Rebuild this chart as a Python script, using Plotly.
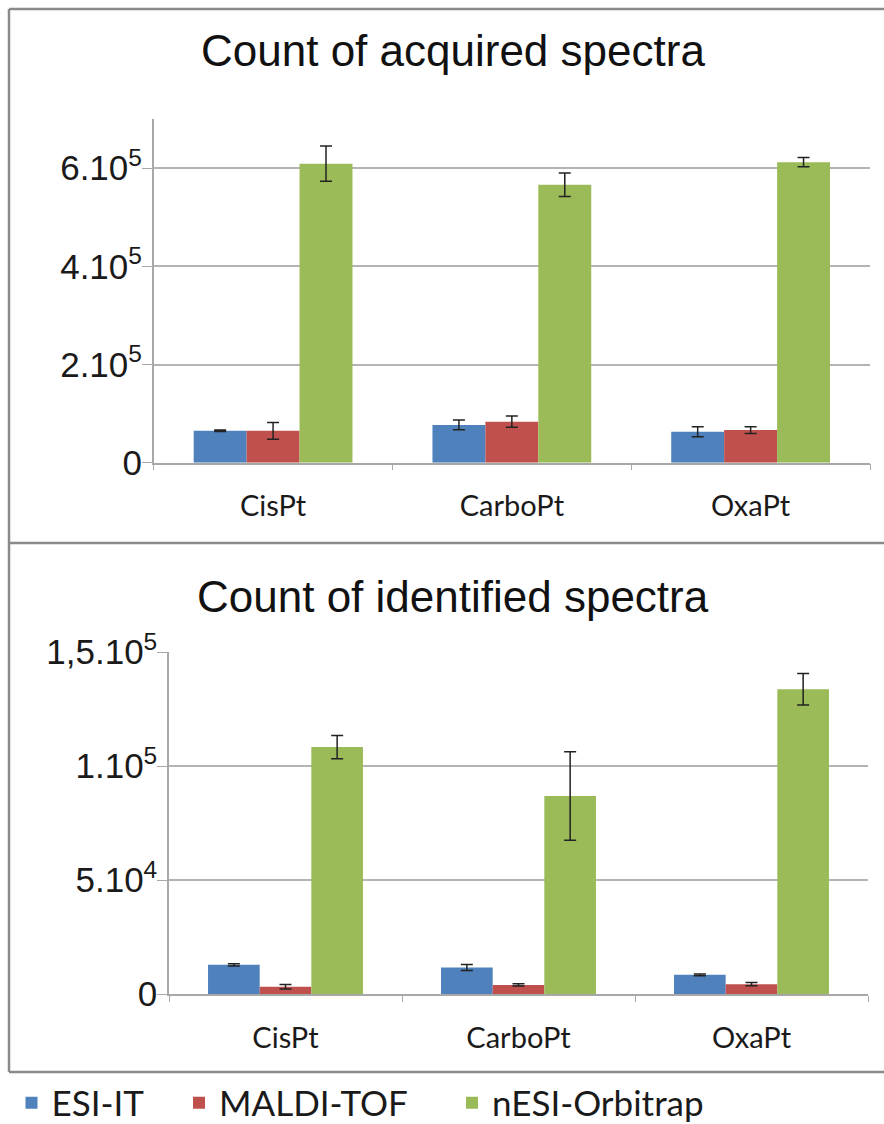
import plotly.graph_objects as go

# Drug categories and instrument series
categories = ["CisPt", "CarboPt", "OxaPt"]
series = ["ESI-IT", "MALDI-TOF", "nESI-Orbitrap"]
colors = ["#4F81BD", "#C0504D", "#9BBB59"]

# Count of acquired spectra (mean, error)
acquired_esi = [65000, 77000, 63000]
acquired_esi_err = [1500, 10000, 10000]
acquired_maldi = [65000, 83500, 66500]
acquired_maldi_err = [17000, 11500, 6800]
acquired_nesi = [609000, 566000, 612000]
acquired_nesi_err = [36000, 24000, 9500]

# Count of identified spectra (mean, error)
identified_esi = [12800, 11600, 8400]
identified_esi_err = [500, 1300, 400]
identified_maldi = [3200, 4000, 4300]
identified_maldi_err = [1000, 500, 700]
identified_nesi = [108300, 86800, 133700]
identified_nesi_err = [5100, 19400, 6900]

# Y tick values / labels
acq_tickvals = [0, 200000, 400000, 600000]
acq_ticktext = ["0", "2.10<sup>5</sup>", "4.10<sup>5</sup>", "6.10<sup>5</sup>"]
idf_tickvals = [0, 50000, 100000, 150000]
idf_ticktext = ["0", "5.10<sup>4</sup>", "1.10<sup>5</sup>", "1,5.10<sup>5</sup>"]

W, H = 884, 1124


def px_x(p):
    return p / W


def px_y(p):
    return 1 - p / H


acq = [(acquired_esi, acquired_esi_err), (acquired_maldi, acquired_maldi_err),
       (acquired_nesi, acquired_nesi_err)]
idf = [(identified_esi, identified_esi_err), (identified_maldi, identified_maldi_err),
       (identified_nesi, identified_nesi_err)]
legend_ids = ["legend", "legend2", "legend3"]

fig = go.Figure()
err_style = dict(type="data", color="#222222", thickness=1.5, width=6)

for i, name in enumerate(series):
    vals, errs = acq[i]
    fig.add_trace(go.Bar(
        x=categories, y=vals, name=name, marker_color=colors[i],
        marker_line_width=0,
        error_y=dict(array=errs, **err_style),
        xaxis="x", yaxis="y", legend=legend_ids[i], showlegend=True,
    ))
for i, name in enumerate(series):
    vals, errs = idf[i]
    fig.add_trace(go.Bar(
        x=categories, y=vals, name=name, marker_color=colors[i],
        marker_line_width=0,
        error_y=dict(array=errs, **err_style),
        xaxis="x2", yaxis="y2", showlegend=False,
    ))

grid_col = "#b4b4b4"
axis_col = "#a8a8a8"
tick_font = dict(family="Liberation Sans, Arial, sans-serif", size=35, color="#1a1a1a")
cat_font = dict(family="Lato, sans-serif", size=29, color="#1a1a1a")

xcommon = dict(
    type="category", showline=True, linecolor=axis_col, linewidth=1.5,
    ticks="outside", tickson="boundaries", ticklen=6, tickcolor=axis_col,
    tickfont=cat_font, showgrid=False, zeroline=False, fixedrange=True,
    ticklabelstandoff=17,
)
ycommon = dict(
    showline=True, linecolor=axis_col, linewidth=1.5,
    showgrid=True, gridcolor=grid_col, gridwidth=1.5,
    ticks="outside", ticklen=10, tickcolor=axis_col,
    tickfont=tick_font, zeroline=False, fixedrange=True,
    ticklabelstandoff=-7,
)

fig.update_layout(
    width=W, height=H, autosize=False,
    margin=dict(l=0, r=0, t=0, b=0, autoexpand=False),
    paper_bgcolor="white", plot_bgcolor="white",
    barmode="group", bargap=0.335, bargroupgap=0,
    xaxis=dict(domain=[px_x(153.7), px_x(870)], anchor="y", **xcommon),
    yaxis=dict(domain=[px_y(462.7), px_y(119)], anchor="x", range=[0, 700000],
               tickvals=acq_tickvals, ticktext=acq_ticktext, **ycommon),
    xaxis2=dict(domain=[px_x(169), px_x(868)], anchor="y2", **xcommon),
    yaxis2=dict(domain=[px_y(994), px_y(652)], anchor="x2", range=[0, 150000],
                tickvals=idf_tickvals, ticktext=idf_ticktext, **ycommon),
    showlegend=True,
)

legend_font = dict(family="Lato, sans-serif", size=35, color="#1a1a1a")
for lid, xpos in zip(legend_ids, [11.5, 179, 452]):
    fig.update_layout({lid: dict(
        x=px_x(xpos), y=px_y(1103), xanchor="left", yanchor="middle",
        orientation="h", font=legend_font, bgcolor="rgba(0,0,0,0)",
        borderwidth=0, itemclick=False, itemdoubleclick=False,
    )})

title_font = dict(family="Liberation Sans, Arial, sans-serif", size=44, color="#111111")
fig.add_annotation(text="Count of acquired spectra", x=px_x(453), y=px_y(50),
                   xref="paper", yref="paper", showarrow=False,
                   xanchor="center", yanchor="middle", font=title_font)
fig.add_annotation(text="Count of identified spectra", x=px_x(453), y=px_y(596),
                   xref="paper", yref="paper", showarrow=False,
                   xanchor="center", yanchor="middle", font=title_font)

# Panel frames
frame = dict(type="line", xref="paper", yref="paper",
             line=dict(color="#8a8a8a", width=2.5))
fig.add_shape(x0=px_x(9), x1=1.02, y0=px_y(9), y1=px_y(9), **frame)
fig.add_shape(x0=px_x(9), x1=1.02, y0=px_y(543), y1=px_y(543), **frame)
fig.add_shape(x0=px_x(9), x1=1.02, y0=px_y(1072), y1=px_y(1072), **frame)
fig.add_shape(x0=px_x(9), x1=px_x(9), y0=px_y(9), y1=px_y(1072), **frame)

fig.write_html("out.html")
